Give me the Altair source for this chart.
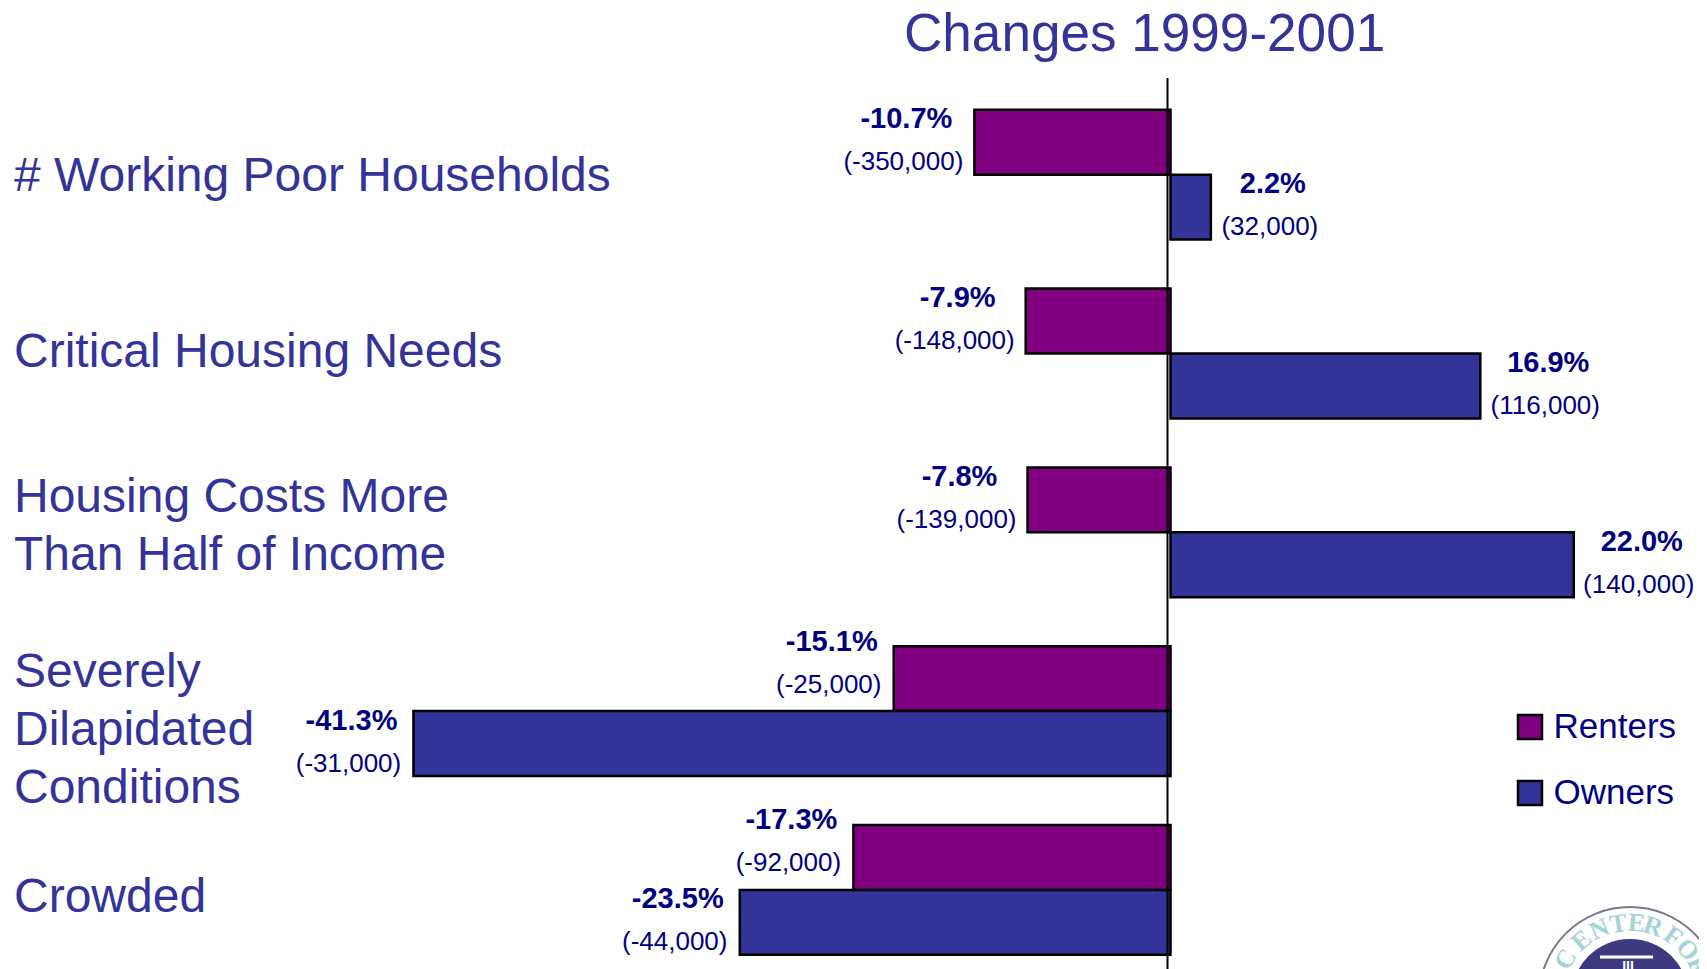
import math
import altair as alt
import pandas as pd

categories = ["# Working Poor Households", "Critical Housing Needs",
              "Housing Costs More|Than Half of Income",
              "Severely|Dilapidated|Conditions", "Crowded"]
renters_pct = [-10.7, -7.9, -7.8, -15.1, -17.3]
owners_pct = [2.2, 16.9, 22.0, -41.3, -23.5]
renters_count = [-350000, -148000, -139000, -25000, -92000]
owners_count = [32000, 116000, 140000, -31000, -44000]
series = ["Renters", "Owners"]
colors = ["#800080", "#333399"]
label_shift = [2, -1, -34, -38, 8]
logo_letters = list("CENTERFOR")
logo_angles = [-59, -40, -24, -9, 5, 18, 35, 50, 65]

BAR = 64.9 / 178.8
rows = []
for i, c in enumerate(categories):
    rows.append(dict(cat=c, series="Renters", row=i, pct=renters_pct[i], zero=0, top=i, bot=i + BAR,
                     pct_label=f"{renters_pct[i]:.1f}%", count_label=f"({renters_count[i]:,})"))
    rows.append(dict(cat=c, series="Owners", row=i, pct=owners_pct[i], zero=0, top=i + BAR, bot=i + 2 * BAR,
                     pct_label=f"{owners_pct[i]:.1f}%", count_label=f"({owners_count[i]:,})"))
df = pd.DataFrame(rows)
df["mid"] = (df["top"] + df["bot"]) / 2

W, H = 1691, 893
ZERO = 1162.5
PX = 18.33
xs = alt.Scale(domain=[-ZERO / PX, (W - ZERO) / PX], nice=False, zero=False)
ys = alt.Scale(domain=[-31.8 / 178.8, (H - 31.8) / 178.8], nice=False, zero=False, reverse=True)
x = alt.X("pct:Q", scale=xs, axis=None)

bars = alt.Chart(df).mark_bar(stroke="black", strokeWidth=2.5).encode(
    x=x, x2="zero:Q", y=alt.Y("top:Q", scale=ys, axis=None), y2="bot:Q",
    color=alt.Color("series:N", scale=alt.Scale(domain=series, range=colors),
                    legend=alt.Legend(title=None, orient="none", legendX=1504.5, legendY=631.5,
                                      symbolType="square", symbolSize=576,
                                      symbolStrokeColor="black", symbolStrokeWidth=2.5,
                                      symbolOpacity=1, rowPadding=30, labelFontSize=35,
                                      labelFont="Liberation Sans", labelColor="#000080",
                                      labelOffset=6, labelLimit=0)),
)

rule = alt.Chart(pd.DataFrame({"zero": [0]})).mark_rule(color="black", strokeWidth=2, xOffset=-3).encode(
    x=alt.X("zero:Q", scale=xs, axis=None))

ym = alt.Y("mid:Q", scale=ys, axis=None)
base = alt.Chart(df).transform_calculate(
    sgn="datum.pct < 0 ? -1 : 1", hw="length(datum.count_label) * 6",
    lift="datum.series == 'Renters' && datum.row >= 3 ? 14 : 0")
pct_text = base.mark_text(font="Liberation Sans", fontSize=29, fontWeight="bold", color="#000080",
                          align="center", baseline="middle",
                          dy=alt.expr("-23 - datum.lift"),
                          dx=alt.expr("datum.sgn * (11 + datum.hw) + 3")).encode(
    x=x, y=ym, text="pct_label:N")
cnt_text = base.mark_text(font="Liberation Sans", fontSize=26, color="#000080",
                          align="center", baseline="middle",
                          dy=alt.expr("20 - datum.lift"),
                          dx=alt.expr("datum.sgn * (11 + datum.hw)")).encode(
    x=x, y=ym, text="count_label:N")

label_layers = []
for i, (c, s) in enumerate(zip(categories, label_shift)):
    label_layers.append(
        alt.Chart(pd.DataFrame({"cat": [c], "mid": [i + BAR]})).mark_text(
            font="Liberation Sans", fontSize=48, color="#333399", align="left",
            baseline="middle", lineBreak="|", lineHeight=58, dy=s
        ).encode(x=alt.value(6), y=ym, text="cat:N"))

cx, cy, r_txt = 1622, 920, 75
one = pd.DataFrame({"a": [1]})
logo = [
    alt.Chart(one).mark_point(filled=True, fill="white", stroke="#77778f", strokeWidth=2, clip=True, opacity=1)
    .encode(x=alt.value(cx), y=alt.value(cy), size=alt.value(182 ** 2)),
    alt.Chart(one).mark_point(filled=True, fill="#3d3a80", clip=True, opacity=1)
    .encode(x=alt.value(cx), y=alt.value(cy), size=alt.value(118 ** 2)),
    alt.Chart(one).mark_rule(color="white", strokeWidth=3).encode(
        x=alt.value(1592), x2=alt.value(1645), y=alt.value(879)),
    alt.Chart(pd.DataFrame({"t": ["III"]})).mark_text(
        font="Liberation Sans", fontSize=14, fontWeight="bold", color="white", clip=True
    ).encode(x=alt.value(1620), y=alt.value(889), text="t:N"),
]
for ch, a in zip(logo_letters, logo_angles):
    t = math.radians(a)
    logo.append(
        alt.Chart(pd.DataFrame({"t": [ch]})).mark_text(
            font="Liberation Serif", fontSize=26, fontWeight="bold", color="#a5d3d9",
            angle=(a + 360) % 360, clip=True, baseline="middle", align="center"
        ).encode(x=alt.value(cx + r_txt * math.sin(t)), y=alt.value(cy - r_txt * math.cos(t)), text="t:N"))

chart = alt.layer(*logo, bars, rule, pct_text, cnt_text, *label_layers).properties(
    width=W, height=H, padding=0,
    title=alt.TitleParams("Changes 1999-2001", font="Liberation Sans", fontSize=53.1, fontWeight="normal",
                          color="#333399", anchor="start", frame="group", dx=896, dy=-3, offset=12, limit=700),
).configure_view(stroke=None)

chart.save("out.html", embed_options={"renderer": "svg", "actions": False})
